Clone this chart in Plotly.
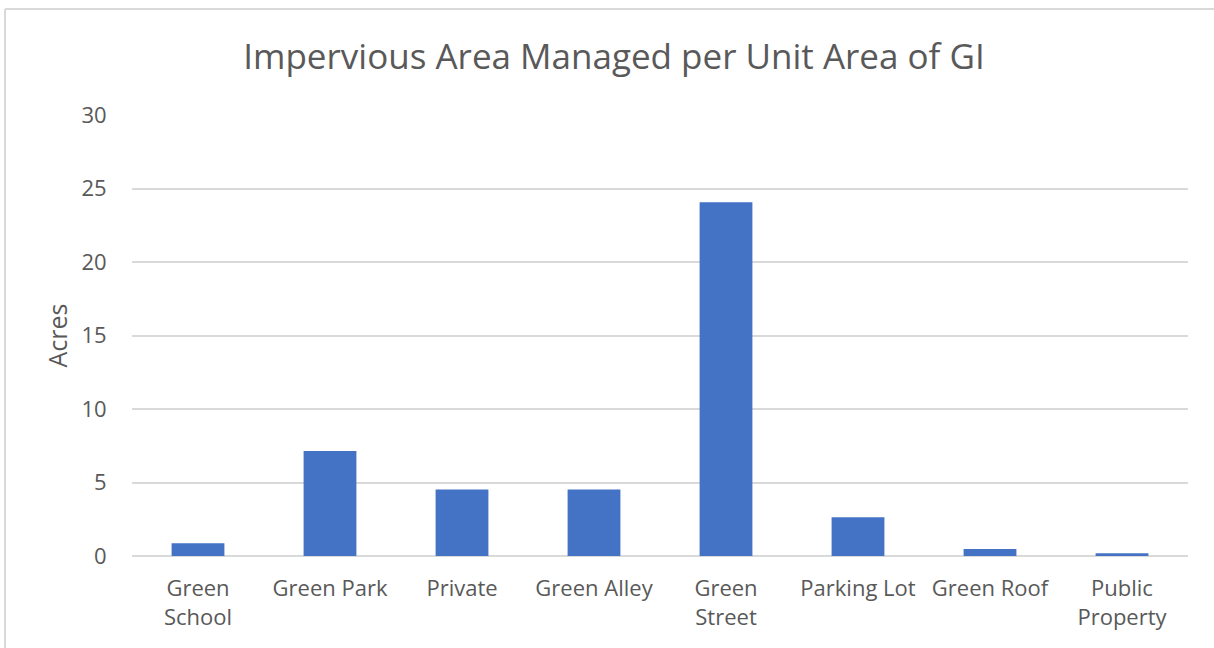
import plotly.graph_objects as go

categories = ["Green<br>School", "Green Park", "Private", "Green Alley", "Green<br>Street",
              "Parking Lot", "Green Roof", "Public<br>Property"]
values = [0.87, 7.14, 4.53, 4.53, 24.07, 2.63, 0.47, 0.18]
y_ticks = [0, 5, 10, 15, 20, 25, 30]

TEXT = "#595959"
GRID = "#d9d9d9"
FONT = "Open Sans"

W, H = 1214, 648
L, R, T, B = 132, 26, 115, 92
pw, ph = W - L - R, H - T - B

def px_x(x):
    return (x - L) / pw

def px_y(y):
    return (H - B - y) / ph

fig = go.Figure(go.Bar(x=categories, y=values, marker=dict(color="#4472C4", line=dict(width=0))))

fig.update_layout(
    width=W, height=H,
    margin=dict(l=L, r=R, t=T, b=B),
    paper_bgcolor="white", plot_bgcolor="white",
    bargap=0.6,
    showlegend=False,
    font=dict(family=FONT, color=TEXT, size=22),
    title=dict(text="Impervious Area Managed per Unit Area of GI",
               x=614 / W, xanchor="center", y=1 - 57 / H, yanchor="middle",
               font=dict(family=FONT, size=35, color=TEXT)),
    xaxis=dict(showgrid=False, showline=False, ticks="outside", ticklen=13, tickcolor="white",
               tickfont=dict(size=22, color=TEXT)),
    yaxis=dict(range=[0, 30], tickvals=y_ticks, showgrid=True, gridcolor=GRID, gridwidth=1.5,
               zeroline=True, zerolinecolor=GRID, zerolinewidth=1.5, showline=False,
               ticks="outside", ticklen=20, tickcolor="white",
               tickfont=dict(size=22, color=TEXT),
               title=dict(text="Acres", font=dict(size=25, color=TEXT), standoff=6)),
    shapes=[
        dict(type="line", xref="paper", yref="paper", x0=px_x(5), x1=px_x(W), y0=px_y(9), y1=px_y(9),
             line=dict(color=GRID, width=2)),
        dict(type="line", xref="paper", yref="paper", x0=px_x(5), x1=px_x(5), y0=px_y(9), y1=px_y(H),
             line=dict(color=GRID, width=2)),
    ],
)

fig.write_html("out.html", config={"displayModeBar": False},
               post_script="document.body.style.margin='0';document.body.style.overflow='hidden';")
